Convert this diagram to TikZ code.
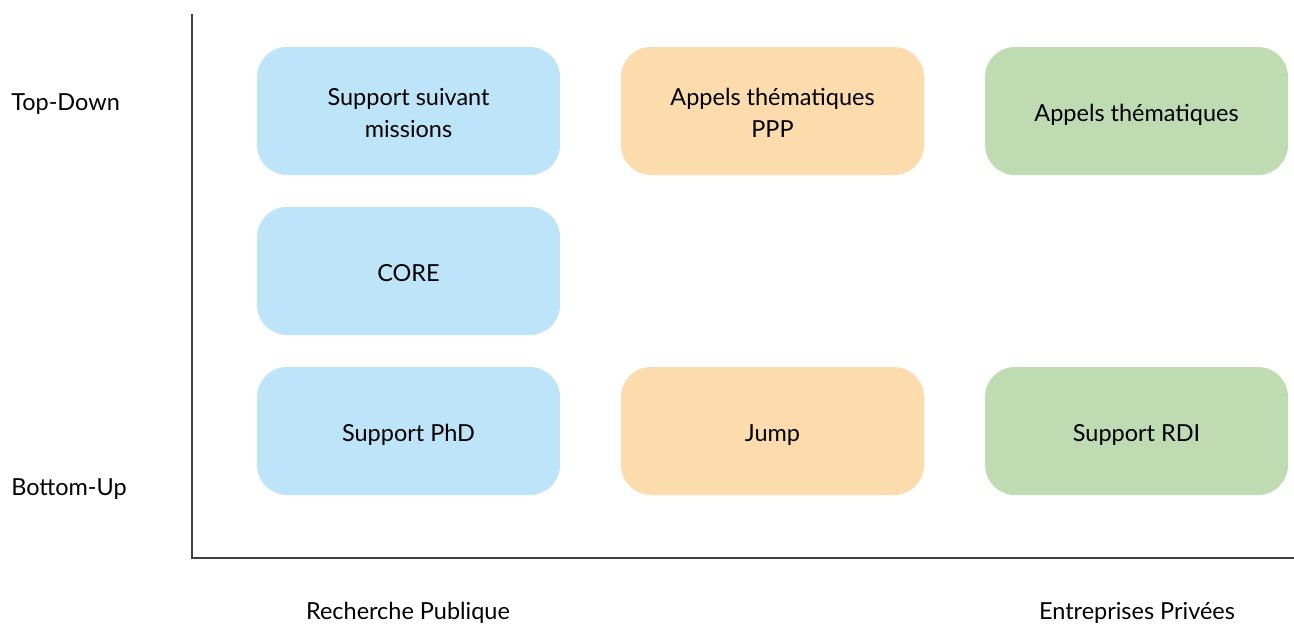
\documentclass[tikz,border=0pt]{standalone}
\usepackage{fontspec}
\setmainfont{Lato}
\definecolor{boxblue}{HTML}{BDE4F8}
\definecolor{boxorange}{HTML}{FCDBAD}
\definecolor{boxgreen}{HTML}{BFDBB1}
\definecolor{axisgray}{HTML}{404040}
% struts giving the first and last lines of a cell the same ascent and descent,
% so every cell's text sits on a common baseline whatever letters it holds
\newcommand{\cellup}{\rule{0pt}{20pt}}
\newcommand{\celldown}{\rule[-4pt]{0pt}{4pt}}
\tikzset{
  cell/.style={rectangle, rounded corners=22.5pt, minimum width=227.25pt,
    minimum height=96pt, inner sep=0pt, align=center,
    font=\fontsize{17.6}{24}\selectfont},
  axislabel/.style={inner sep=0pt, font=\fontsize{17.6}{22}\selectfont},
  axisline/.style={draw=axisgray, line width=1.1pt}
}
\begin{document}
\begin{tikzpicture}[x=0.75pt, y=-0.75pt]
  \useasboundingbox (0,0) rectangle (1294,626);
  % axes
  \coordinate (ytop) at (192,14);
  \coordinate (origin) at (192,558);
  \coordinate (xend) at (1294,558);
  \draw[axisline] (ytop) -- (origin) -- (xend);
  % axis labels
  \node[axislabel, anchor=west] (td) at (11,104) {Top-Down};
  \node[axislabel, anchor=west] (bu) at (11,489) {Bottom-Up};
  \node[axislabel] (rp) at (408,613) {Recherche Publique};
  \node[axislabel] (ep) at (1137,613) {Entreprises Privées};
  % public research column
  \node[cell, fill=boxblue] (ssm) at (408.5,111) {\cellup Support suivant\\missions\celldown};
  \node[cell, fill=boxblue] (core) at (408.5,271) {\cellup CORE\celldown};
  \node[cell, fill=boxblue] (phd) at (408.5,431) {\cellup Support PhD\celldown};
  % partnership column
  \node[cell, fill=boxorange] (ppp) at (772.5,111) {\cellup Appels thématiques\\PPP\celldown};
  \node[cell, fill=boxorange] (jump) at (772.5,431) {\cellup Jump\celldown};
  % private companies column
  \node[cell, fill=boxgreen] (at) at (1136.5,111) {\cellup Appels thématiques\celldown};
  \node[cell, fill=boxgreen] (rdi) at (1136.5,431) {\cellup Support RDI\celldown};
\end{tikzpicture}
\end{document}
